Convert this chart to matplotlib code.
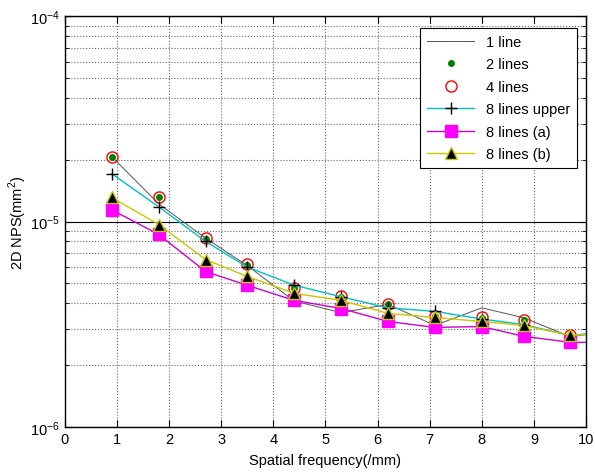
import matplotlib.pyplot as plt
import numpy as np
from matplotlib.ticker import LogLocator, NullFormatter

plt.rcParams['font.family'] = ['Liberation Sans', 'DejaVu Sans']
plt.rcParams['mathtext.fontset'] = 'custom'
plt.rcParams['mathtext.rm'] = 'Liberation Sans'

# spatial frequency samples (/mm); last one lies past the axis limit
freq = [0.9, 1.8, 2.7, 3.5, 4.4, 5.3, 6.2, 7.1, 8.0, 8.8, 9.7, 10.6]

nps_1line = [2.07e-5, 1.22e-5, 8.3e-6, 6.1e-6, 4.1e-6, 3.6e-6, 3.95e-6, 3.12e-6,
             3.8e-6, 3.4e-6, 2.75e-6, 2.95e-6]
nps_2lines = [2.07e-5, 1.31e-5, 8.25e-6, 6.15e-6, 4.75e-6, 4.3e-6, 3.95e-6, 3.45e-6,
              3.4e-6, 3.3e-6, 2.8e-6]
nps_4lines = [2.07e-5, 1.31e-5, 8.27e-6, 6.18e-6, 4.77e-6, 4.35e-6, 3.95e-6, 3.45e-6,
              3.41e-6, 3.3e-6, 2.8e-6]
nps_8upper = [1.71e-5, 1.18e-5, 8.0e-6, 6.0e-6, 4.9e-6, 4.3e-6, 3.8e-6, 3.65e-6,
              3.35e-6, 3.15e-6, 2.78e-6, 2.95e-6]
nps_8a = [1.14e-5, 8.65e-6, 5.71e-6, 4.89e-6, 4.13e-6, 3.77e-6, 3.26e-6, 3.05e-6,
          3.08e-6, 2.76e-6, 2.58e-6, 2.58e-6]
nps_8b = [1.31e-5, 9.67e-6, 6.53e-6, 5.40e-6, 4.47e-6, 4.13e-6, 3.57e-6, 3.41e-6,
          3.26e-6, 3.12e-6, 2.79e-6, 2.85e-6]

fig = plt.figure(figsize=(5.95, 4.77), dpi=100)
ax = fig.add_axes([0.109, 0.103, 0.876, 0.861])

ax.plot(freq, nps_1line, '-', color='#555555', lw=0.7, label='1 line')
ax.plot(freq[:11], nps_2lines, 'o', color='#007f00', ms=4, label='2 lines')
ax.plot(freq[:11], nps_4lines, 'o', mfc='none', mec='red', ms=8, mew=1, label='4 lines')
ax.plot(freq, nps_8upper, '-+', color='#00c0c0', mec='black', ms=9, mew=1,
        lw=1, label='8 lines upper')
ax.plot(freq, nps_8a, '-s', color='#d000d0', mfc='magenta', mec='magenta', ms=8,
        lw=1, label='8 lines (a)')
ax.plot(freq, nps_8b, '-^', color='#c8c800', mfc='black', mec='#c8c800', ms=9,
        mew=1, lw=1, label='8 lines (b)')

ax.set_yscale('log')
ax.set_xlim(0, 10)
ax.set_ylim(1e-6, 1e-4)
ax.set_xticks(range(11))
ax.yaxis.set_major_locator(LogLocator(base=10, numticks=5))
ax.yaxis.set_minor_locator(LogLocator(base=10, subs=np.arange(2, 10), numticks=20))
ax.yaxis.set_minor_formatter(NullFormatter())

ax.grid(True, which='major', axis='x', ls=':', color='#666666', lw=0.8)
ax.grid(True, which='major', axis='y', ls='-', color='black', lw=0.8)
ax.grid(True, which='minor', axis='y', ls=':', color='#666666', lw=0.8)

ax.tick_params(which='both', direction='in', top=True, right=True, labelsize=10.5)
ax.tick_params(which='major', length=5)
ax.tick_params(which='minor', length=3)
for s in ax.spines.values():
    s.set_linewidth(1)

ax.set_xlabel('Spatial frequency(/mm)', fontsize=10.5, labelpad=5)
ax.set_ylabel('2D NPS(mm$^2$)', fontsize=10.5, labelpad=1)

leg = ax.legend(loc='upper right', bbox_to_anchor=(0.997, 0.99), fontsize=10.5,
                fancybox=False, edgecolor='black', framealpha=1,
                handlelength=3.2, borderpad=0.5, labelspacing=0.58)
leg.get_frame().set_linewidth(0.8)

fig.savefig('out.png', dpi=100)
